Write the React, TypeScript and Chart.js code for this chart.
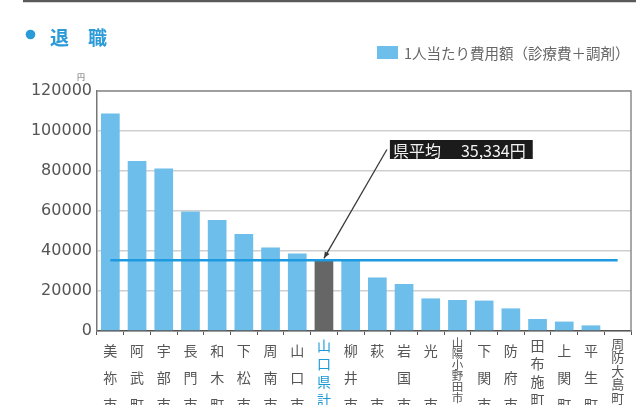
import React, { useEffect, useRef } from 'react';
import { Chart, registerables } from 'chart.js';

Chart.register(...registerables);

const categories: string[][] = [
  ['美', '祢', '市'],
  ['阿', '武', '町'],
  ['宇', '部', '市'],
  ['長', '門', '市'],
  ['和', '木', '町'],
  ['下', '松', '市'],
  ['周', '南', '市'],
  ['山', '口', '市'],
  ['山', '口', '県', '計'],
  ['柳', '井', '市'],
  ['萩', '', '市'],
  ['岩', '国', '市'],
  ['光', '', '市'],
  ['山', '陽', '小', '野', '田', '市'],
  ['下', '関', '市'],
  ['防', '府', '市'],
  ['田', '布', '施', '町'],
  ['上', '関', '町'],
  ['平', '生', '町'],
  ['周', '防', '大', '島', '町'],
];

const costPerPerson: number[] = [
  108800, 85000, 81300, 59700, 55500, 48500, 41800, 38800, 35334, 35000,
  26800, 23500, 16300, 15500, 15200, 11300, 6000, 4700, 2800, 0,
];

const prefAverage = 35334;
const highlightIndex = 8;
const yTicks: number[] = [0, 20000, 40000, 60000, 80000, 100000, 120000];

const seriesLabel = '1人当たり費用額（診療費＋調剤）';
const chartTitle = '退　職';
const unitLabel = '円';
const avgLabel = '県平均';

const BAR_BLUE = '#6dbeea';
const BAR_GRAY = '#666666';
const LINE_BLUE = '#1e9ae0';
const TITLE_BLUE = '#2a9ad8';
const JP = '"Noto Sans CJK JP", sans-serif';

// per-label vertical text fitting (long names are squeezed, as in the source)
function tickFont(index: number) {
  const n = categories[index] ? categories[index].length : 3;
  if (n >= 6) return { family: JP, size: 11.5, lineHeight: '11px' };
  if (n === 5) return { family: JP, size: 13, lineHeight: '13.5px' };
  if (n === 4) return { family: JP, size: 14, lineHeight: '18px' };
  return { family: JP, size: 14, lineHeight: '27px' };
}

const decorPlugin = {
  id: 'decor',
  afterDraw(chart: any) {
    const { ctx, chartArea: a, scales } = chart;
    const xs = scales.x;
    const ys = scales.y;
    ctx.save();

    // top frame line of the page
    ctx.strokeStyle = '#5a5a5a';
    ctx.lineWidth = 2.5;
    ctx.beginPath();
    ctx.moveTo(23, 1);
    ctx.lineTo(636, 1);
    ctx.stroke();

    // plot frame (top & right)
    ctx.strokeStyle = '#8c8c8c';
    ctx.lineWidth = 1.5;
    ctx.beginPath();
    ctx.moveTo(a.left, a.top);
    ctx.lineTo(a.right, a.top);
    ctx.lineTo(a.right, a.bottom);
    ctx.stroke();

    // title
    ctx.fillStyle = TITLE_BLUE;
    ctx.beginPath();
    ctx.arc(30.5, 34.5, 4.8, 0, Math.PI * 2);
    ctx.fill();
    ctx.font = `bold 19px ${JP}`;
    ctx.textBaseline = 'middle';
    ctx.textAlign = 'left';
    ctx.fillText(chartTitle, 50, 38);

    // unit
    ctx.fillStyle = '#666';
    ctx.font = `8px ${JP}`;
    ctx.textAlign = 'center';
    ctx.fillText(unitLabel, 81, 77);

    // legend
    const ds = chart.data.datasets[0];
    ctx.fillStyle = BAR_BLUE;
    ctx.fillRect(377, 46, 21, 13);
    ctx.fillStyle = '#666';
    ctx.font = `14.5px ${JP}`;
    ctx.textAlign = 'left';
    ctx.fillText(ds.label, 404, 53);

    // average annotation
    const tx = xs.getPixelForValue(highlightIndex);
    const ty = ys.getPixelForValue(prefAverage) - 2;
    const bx = xs.getPixelForValue(10.47);
    const by = ys.getPixelForValue(90750);
    ctx.font = `16px ${JP}`;
    const t1 = avgLabel;
    const t2 = prefAverage.toLocaleString('en-US') + '円';
    const w1 = ctx.measureText(t1).width;
    const w2 = ctx.measureText(t2).width;
    const gap = 20;
    const pad = 3;
    const bw = pad + w1 + gap + w2 + 7;
    const bh = 19;
    ctx.fillStyle = '#1b1b1b';
    ctx.fillRect(bx, by - bh / 2, bw, bh);
    ctx.fillStyle = '#f4f4f4';
    ctx.textBaseline = 'middle';
    ctx.fillText(t1, bx + pad, by + 1);
    ctx.fillText(t2, bx + pad + w1 + gap, by + 1);

    // arrow
    const sx = bx - 3;
    const sy = by;
    ctx.strokeStyle = '#3a3a3a';
    ctx.lineWidth = 1.3;
    ctx.beginPath();
    ctx.moveTo(sx, sy);
    ctx.lineTo(tx, ty);
    ctx.stroke();
    const ang = Math.atan2(ty - sy, tx - sx);
    const L = 7;
    ctx.fillStyle = '#3a3a3a';
    ctx.beginPath();
    ctx.moveTo(tx, ty);
    ctx.lineTo(tx - L * Math.cos(ang - 0.4), ty - L * Math.sin(ang - 0.4));
    ctx.lineTo(tx - L * Math.cos(ang + 0.4), ty - L * Math.sin(ang + 0.4));
    ctx.closePath();
    ctx.fill();

    ctx.restore();
  },
};

export default function App() {
  const ref = useRef<HTMLCanvasElement | null>(null);

  useEffect(() => {
    document.body.style.margin = '0';
    const canvas = ref.current;
    if (!canvas) return;
    const chart = new Chart(canvas, {
      type: 'bar',
      data: {
        labels: categories,
        datasets: [
          {
            type: 'bar',
            label: seriesLabel,
            data: costPerPerson,
            backgroundColor: costPerPerson.map((_, i) => (i === highlightIndex ? BAR_GRAY : BAR_BLUE)),
            borderWidth: 0,
            barPercentage: 0.7,
            categoryPercentage: 1,
            order: 2,
          },
          {
            type: 'line',
            label: avgLabel,
            data: costPerPerson.map(() => prefAverage),
            borderColor: LINE_BLUE,
            borderWidth: 2.5,
            pointRadius: 0,
            fill: false,
            order: 1,
          },
        ],
      } as any,
      options: {
        animation: false,
        responsive: false,
        maintainAspectRatio: false,
        layout: { padding: { top: 91, right: 5, left: 0, bottom: 0 } },
        plugins: {
          legend: { display: false },
          tooltip: { enabled: false },
          title: { display: false },
        },
        scales: {
          x: {
            grid: {
              drawOnChartArea: false,
              drawTicks: true,
              tickLength: 4,
              color: '#555',
              lineWidth: 1,
            },
            border: { color: '#555', width: 1.5 },
            ticks: {
              autoSkip: false,
              maxRotation: 0,
              minRotation: 0,
              padding: 2,
              font: ((c: any) => tickFont(c.index)) as any,
              color: (c: any) => (c.index === highlightIndex ? '#1a9ad6' : '#555'),
            },
            afterFit: (s: any) => {
              s.height = 74;
            },
          },
          y: {
            min: 0,
            max: 120000,
            afterBuildTicks: (s: any) => {
              s.ticks = yTicks.map((v) => ({ value: v }));
            },
            grid: { color: '#cfcfcf', lineWidth: 1.5, drawTicks: false },
            border: { color: '#777', width: 1.5 },
            ticks: {
              padding: 5,
              color: '#555',
              font: { family: '"DejaVu Sans", sans-serif', size: 16 },
              callback: (v: any) => String(v),
            },
            afterFit: (s: any) => {
              s.width = 97;
            },
          },
        },
      },
      plugins: [decorPlugin],
    });
    return () => chart.destroy();
  }, []);

  return (
    <div style={{ width: 636, height: 405, position: 'relative', background: '#fff' }}>
      <canvas ref={ref} width={636} height={405} />
    </div>
  );
}
